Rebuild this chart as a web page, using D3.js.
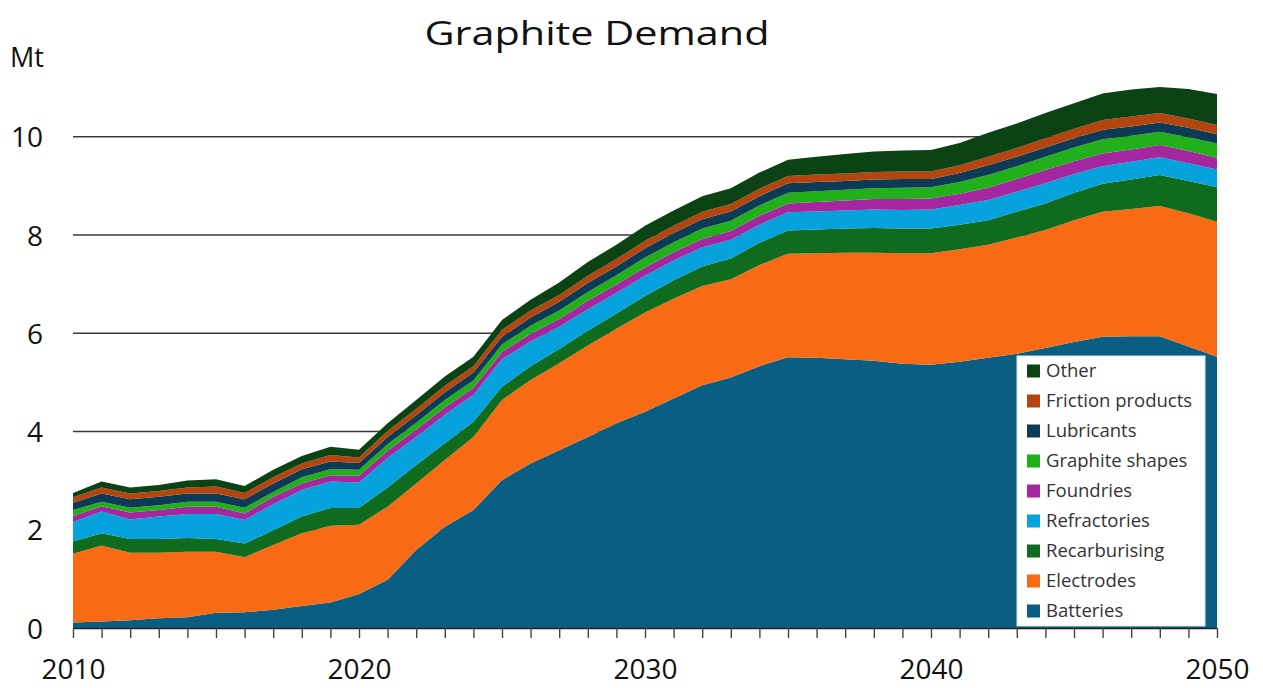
<!DOCTYPE html>
<html>
<head>
<meta charset="utf-8">
<title>Graphite Demand</title>
<script src="https://cdn.jsdelivr.net/npm/d3@7/dist/d3.min.js"></script>
<style>
  html, body { margin: 0; padding: 0; background: #ffffff; }
  svg { display: block; font-family: "Open Sans", "Noto Sans", sans-serif; }
</style>
</head>
<body>
<svg id="chart" width="1263" height="688"></svg>
<script>
// Graphite demand by end use, Mt per year
const years = [2010, 2011, 2012, 2013, 2014, 2015, 2016, 2017, 2018, 2019, 2020,
               2021, 2022, 2023, 2024, 2025, 2026, 2027, 2028, 2029, 2030,
               2031, 2032, 2033, 2034, 2035, 2036, 2037, 2038, 2039, 2040,
               2041, 2042, 2043, 2044, 2045, 2046, 2047, 2048, 2049, 2050];

const batteries = [0.11, 0.13, 0.16, 0.20, 0.22, 0.31, 0.32, 0.37, 0.45, 0.52, 0.69,
                   0.98, 1.59, 2.06, 2.40, 3.01, 3.35, 3.62, 3.89, 4.17, 4.40,
                   4.67, 4.94, 5.10, 5.33, 5.51, 5.50, 5.47, 5.44, 5.38, 5.36,
                   5.42, 5.50, 5.58, 5.70, 5.82, 5.93, 5.94, 5.94, 5.73, 5.52];
const electrodes = [1.40, 1.55, 1.37, 1.33, 1.33, 1.24, 1.12, 1.32, 1.48, 1.56, 1.41,
                    1.49, 1.35, 1.36, 1.49, 1.63, 1.70, 1.77, 1.86, 1.92, 2.02,
                    2.03, 2.02, 2.00, 2.06, 2.11, 2.13, 2.17, 2.20, 2.25, 2.27,
                    2.29, 2.30, 2.37, 2.40, 2.48, 2.54, 2.59, 2.65, 2.71, 2.75];
const recarburising = [0.25, 0.25, 0.28, 0.28, 0.28, 0.26, 0.28, 0.30, 0.34, 0.36, 0.34,
                       0.39, 0.38, 0.34, 0.31, 0.27, 0.28, 0.29, 0.30, 0.31, 0.34,
                       0.38, 0.40, 0.42, 0.45, 0.47, 0.48, 0.49, 0.50, 0.50, 0.50,
                       0.50, 0.50, 0.52, 0.54, 0.56, 0.57, 0.60, 0.63, 0.66, 0.70];
const refractories = [0.40, 0.44, 0.40, 0.46, 0.49, 0.51, 0.48, 0.53, 0.54, 0.54, 0.52,
                      0.60, 0.57, 0.58, 0.54, 0.56, 0.50, 0.45, 0.44, 0.42, 0.41,
                      0.40, 0.39, 0.38, 0.37, 0.37, 0.37, 0.37, 0.38, 0.38, 0.39,
                      0.40, 0.41, 0.41, 0.41, 0.38, 0.36, 0.36, 0.36, 0.36, 0.36];
const foundries = [0.12, 0.11, 0.14, 0.13, 0.15, 0.15, 0.13, 0.15, 0.13, 0.13, 0.14,
                   0.15, 0.15, 0.15, 0.15, 0.15, 0.16, 0.16, 0.17, 0.17, 0.17,
                   0.17, 0.17, 0.18, 0.18, 0.18, 0.19, 0.20, 0.21, 0.22, 0.22,
                   0.23, 0.25, 0.26, 0.27, 0.26, 0.26, 0.25, 0.25, 0.25, 0.24];
const graphiteShapes = [0.12, 0.09, 0.10, 0.10, 0.10, 0.10, 0.12, 0.10, 0.13, 0.12, 0.12,
                        0.13, 0.14, 0.15, 0.15, 0.15, 0.16, 0.17, 0.18, 0.19, 0.20,
                        0.20, 0.21, 0.21, 0.21, 0.22, 0.22, 0.22, 0.22, 0.23, 0.23,
                        0.24, 0.26, 0.26, 0.27, 0.28, 0.29, 0.28, 0.27, 0.28, 0.29];
const lubricants = [0.15, 0.17, 0.17, 0.17, 0.17, 0.17, 0.17, 0.17, 0.16, 0.16, 0.14,
                    0.15, 0.15, 0.16, 0.16, 0.16, 0.17, 0.18, 0.18, 0.18, 0.19,
                    0.19, 0.19, 0.19, 0.19, 0.19, 0.19, 0.18, 0.18, 0.18, 0.17,
                    0.18, 0.20, 0.19, 0.19, 0.19, 0.19, 0.19, 0.19, 0.19, 0.19];
const frictionProducts = [0.11, 0.12, 0.12, 0.12, 0.12, 0.14, 0.13, 0.13, 0.12, 0.13, 0.11,
                          0.12, 0.13, 0.13, 0.13, 0.14, 0.14, 0.14, 0.15, 0.15, 0.15,
                          0.15, 0.15, 0.15, 0.15, 0.15, 0.15, 0.15, 0.15, 0.15, 0.15,
                          0.16, 0.17, 0.18, 0.19, 0.19, 0.20, 0.20, 0.19, 0.19, 0.19];
const other = [0.09, 0.12, 0.12, 0.12, 0.14, 0.15, 0.14, 0.15, 0.15, 0.17, 0.16,
               0.16, 0.18, 0.19, 0.19, 0.20, 0.22, 0.25, 0.28, 0.29, 0.31,
               0.31, 0.32, 0.32, 0.33, 0.33, 0.36, 0.40, 0.42, 0.43, 0.44,
               0.45, 0.49, 0.50, 0.51, 0.52, 0.54, 0.55, 0.53, 0.60, 0.63];

// Stacking order, bottom to top
const seriesNames = ["Batteries", "Electrodes", "Recarburising", "Refractories", "Foundries",
                     "Graphite shapes", "Lubricants", "Friction products", "Other"];
const seriesValues = [batteries, electrodes, recarburising, refractories, foundries,
                      graphiteShapes, lubricants, frictionProducts, other];
const seriesColors = ["#0a5e82", "#f96a14", "#0f6c1f", "#05a2dd", "#a5279f",
                      "#22b01a", "#0d3b56", "#b4450f", "#0b4314"];

const yTicks = [0, 2, 4, 6, 8, 10];
const yGridTicks = [2, 4, 6, 8, 10];
const xTickLabels = [2010, 2020, 2030, 2040, 2050];

// Table built from the arrays for d3.stack
const table = years.map((yr, i) => {
  const row = { year: yr };
  seriesNames.forEach((name, k) => { row[name] = seriesValues[k][i]; });
  return row;
});

const svg = d3.select("#chart");

const x = d3.scaleLinear().domain([2010, 2050]).range([73, 1217]);
const y = d3.scaleLinear().domain([0, 10]).range([628, 136.7]);
const color = d3.scaleOrdinal().domain(seriesNames).range(seriesColors);

// Horizontal gridlines behind the areas
svg.append("g")
  .selectAll("line")
  .data(yGridTicks)
  .join("line")
  .attr("x1", x(2010)).attr("x2", x(2050))
  .attr("y1", d => y(d)).attr("y2", d => y(d))
  .attr("stroke", "#3a3a3a")
  .attr("stroke-width", 1.6);

// Stacked areas
const stack = d3.stack().keys(seriesNames);
const layers = stack(table);
const area = d3.area()
  .x(d => x(d.data.year))
  .y0(d => y(d[0]))
  .y1(d => y(d[1]))
  .curve(d3.curveLinear);

svg.append("g")
  .selectAll("path")
  .data(layers)
  .join("path")
  .attr("d", area)
  .attr("fill", d => color(d.key));

// X axis with a tick for every year
const xAxis = d3.axisBottom(x)
  .tickValues(years)
  .tickSize(10)
  .tickSizeOuter(0)
  .tickFormat(d => xTickLabels.includes(d) ? String(d) : "");

const gx = svg.append("g")
  .attr("transform", `translate(0,${y(0)})`)
  .call(xAxis);
gx.select(".domain").attr("stroke", "#222").attr("stroke-width", 1.6);
gx.selectAll(".tick line").attr("stroke", "#444").attr("stroke-width", 1.4);
gx.selectAll(".tick text")
  .attr("y", 51)
  .attr("dy", 0)
  .attr("fill", "#111")
  .attr("font-size", 28)
  .attr("font-family", "Open Sans, Noto Sans, sans-serif");

// Y axis labels
const yAxis = d3.axisLeft(y).tickValues(yTicks).tickSize(0).tickFormat(d3.format("d"));
const gy = svg.append("g")
  .attr("transform", "translate(73,0)")
  .call(yAxis);
gy.select(".domain").remove();
gy.selectAll(".tick text")
  .attr("x", -30)
  .attr("dy", "0.36em")
  .attr("fill", "#111")
  .attr("font-size", 28)
  .attr("font-family", "Open Sans, Noto Sans, sans-serif");

// Unit label
svg.append("text")
  .attr("x", 10).attr("y", 67)
  .attr("font-size", 27)
  .attr("fill", "#111")
  .text("Mt");

// Title
svg.append("text")
  .attr("x", 597).attr("y", 45)
  .attr("text-anchor", "middle")
  .attr("font-size", 33)
  .attr("fill", "#111")
  .attr("textLength", 345)
  .attr("lengthAdjust", "spacingAndGlyphs")
  .text("Graphite Demand");

// Legend, top entry first
const legend = svg.append("g").attr("transform", "translate(1017,356)");
legend.append("rect")
  .attr("width", 188).attr("height", 270)
  .attr("fill", "#ffffff")
  .attr("stroke", "#d8e4ea")
  .attr("stroke-width", 1);

const legendItems = seriesNames.slice().reverse();
const rows = legend.selectAll("g.item")
  .data(legendItems)
  .join("g")
  .attr("class", "item")
  .attr("transform", (d, i) => `translate(10,${15 + i * 30})`);
rows.append("rect")
  .attr("x", 0).attr("y", -6.5)
  .attr("width", 13).attr("height", 13)
  .attr("fill", d => color(d));
rows.append("text")
  .attr("x", 19).attr("y", 0)
  .attr("dy", "0.35em")
  .attr("font-size", 18.5)
  .attr("fill", "#333")
  .text(d => d);
</script>
</body>
</html>
